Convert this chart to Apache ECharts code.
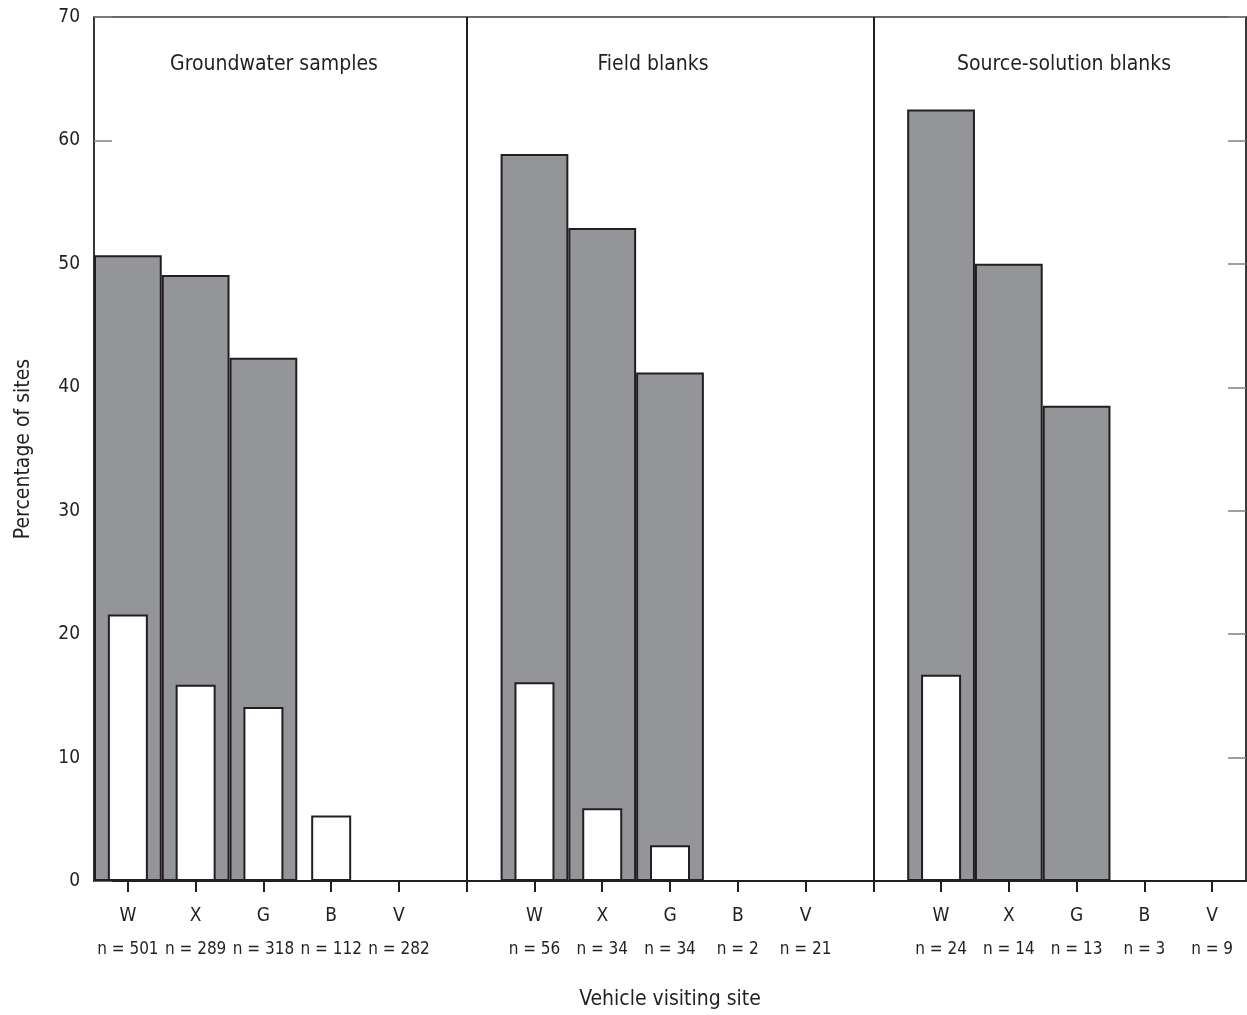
<!DOCTYPE html>
<html>
<head>
<meta charset="utf-8">
<title>Percentage of sites by vehicle visiting site</title>
<script src="https://cdn.jsdelivr.net/npm/echarts@6/dist/echarts.min.js"></script>
<style>
  html, body { margin: 0; padding: 0; background: #ffffff; }
  #chart { width: 1247px; height: 1015px; }
</style>
</head>
<body>
<div id="chart"></div>
<script>
// Vehicle categories for each of the three sample groups; '' marks the gap slot between panels
const categories = ['W', 'X', 'G', 'B', 'V', '', 'W', 'X', 'G', 'B', 'V', '', 'W', 'X', 'G', 'B', 'V'];
const sampleCounts = ['501', '289', '318', '112', '282', '', '56', '34', '34', '2', '21', '', '24', '14', '13', '3', '9'];

// Percentage of sites (gray, wide bars) and percentage with higher detections (white, narrow bars)
const percentAll = [50.7, 49.1, 42.4, 0, 0, null, 58.9, 52.9, 41.2, 0, 0, null, 62.5, 50.0, 38.5, 0, 0];
const percentSubset = [21.6, 15.9, 14.1, 5.3, 0, null, 16.1, 5.9, 2.9, 0, 0, null, 16.7, 0, 0, 0, 0];

const panelTitles = ['Groundwater samples', 'Field blanks', 'Source-solution blanks'];
const separatorSlots = [5, 11];
const yTicks = { min: 0, max: 70, interval: 10 };

const INK = '#231f20';
const GRAY = '#939598';
const FONT = '"Liberation Sans Narrow", "DejaVu Sans Condensed", sans-serif';

const chart = echarts.init(document.getElementById('chart'), null, { renderer: 'canvas' });

const option = {
  animation: false,
  backgroundColor: '#ffffff',
  textStyle: { fontFamily: FONT, color: INK },
  grid: {
    left: 94, top: 17, right: 1, bottom: 134,
    show: true, borderColor: '#3a3a3a', borderWidth: 1.3, backgroundColor: 'transparent'
  },
  xAxis: [
    {
      type: 'category',
      data: categories,
      boundaryGap: true,
      position: 'bottom',
      name: 'Vehicle visiting site',
      nameLocation: 'middle',
      nameGap: 108,
      nameTextStyle: { fontFamily: FONT, fontSize: 21, color: INK },
      axisLine: { show: true, lineStyle: { color: INK, width: 2 } },
      axisTick: { show: true, alignWithLabel: true, interval: 0, length: 11, inside: false, lineStyle: { color: INK, width: 2 } },
      axisLabel: {
        interval: 0,
        margin: 19,
        fontFamily: FONT,
        formatter: function (value, index) {
          if (!value) return '';
          return '{c|' + value + '}\n{n|n = ' + sampleCounts[index] + '}';
        },
        rich: {
          c: { fontFamily: FONT, fontSize: 19, color: INK, lineHeight: 33, align: 'center' },
          n: { fontFamily: FONT, fontSize: 17, color: INK, lineHeight: 33, align: 'center' }
        }
      },
      splitLine: { show: false }
    },
    {
      type: 'category',
      data: categories,
      boundaryGap: true,
      position: 'bottom',
      show: false
    }
  ],
  yAxis: [
    {
      type: 'value',
      min: yTicks.min, max: yTicks.max, interval: yTicks.interval,
      position: 'left',
      name: 'Percentage of sites',
      nameLocation: 'middle',
      nameGap: 60,
      nameTextStyle: { fontFamily: FONT, fontSize: 21, color: INK },
      axisLine: { show: true, lineStyle: { color: INK, width: 1.5 } },
      axisTick: { show: true, inside: true, length: 18, lineStyle: { color: '#808080', width: 1.5 } },
      axisLabel: { margin: 14, fontFamily: FONT, fontSize: 19, color: INK },
      splitLine: { show: false }
    },
    {
      type: 'value',
      min: yTicks.min, max: yTicks.max, interval: yTicks.interval,
      position: 'right',
      axisLine: { show: true, lineStyle: { color: INK, width: 1.5 } },
      axisTick: { show: true, inside: true, length: 18, lineStyle: { color: '#808080', width: 1.5 } },
      axisLabel: { show: false },
      splitLine: { show: false }
    }
  ],
  series: [
    {
      name: 'All sites',
      type: 'bar',
      xAxisIndex: 0,
      yAxisIndex: 0,
      data: percentAll,
      barWidth: '100%',
      itemStyle: { color: GRAY, borderColor: INK, borderWidth: 2 },
      silent: true,
      z: 2,
      markLine: {
        silent: true,
        symbol: ['none', 'none'],
        label: { show: false },
        lineStyle: { color: INK, width: 2, type: 'solid' },
        data: separatorSlots.map(function (i) { return { xAxis: i }; })
      }
    },
    {
      name: 'Subset of sites',
      type: 'bar',
      xAxisIndex: 1,
      yAxisIndex: 0,
      data: percentSubset,
      barWidth: 40,
      itemStyle: { color: '#ffffff', borderColor: INK, borderWidth: 2 },
      silent: true,
      z: 3
    }
  ],
  graphic: [
    { type: 'text', x: 274, y: 65, style: { text: panelTitles[0], font: '21px ' + FONT, fill: INK, textAlign: 'center', textVerticalAlign: 'middle' } },
    { type: 'text', x: 653, y: 65, style: { text: panelTitles[1], font: '21px ' + FONT, fill: INK, textAlign: 'center', textVerticalAlign: 'middle' } },
    { type: 'text', x: 1064, y: 65, style: { text: panelTitles[2], font: '21px ' + FONT, fill: INK, textAlign: 'center', textVerticalAlign: 'middle' } }
  ]
};

chart.setOption(option);
</script>
</body>
</html>
